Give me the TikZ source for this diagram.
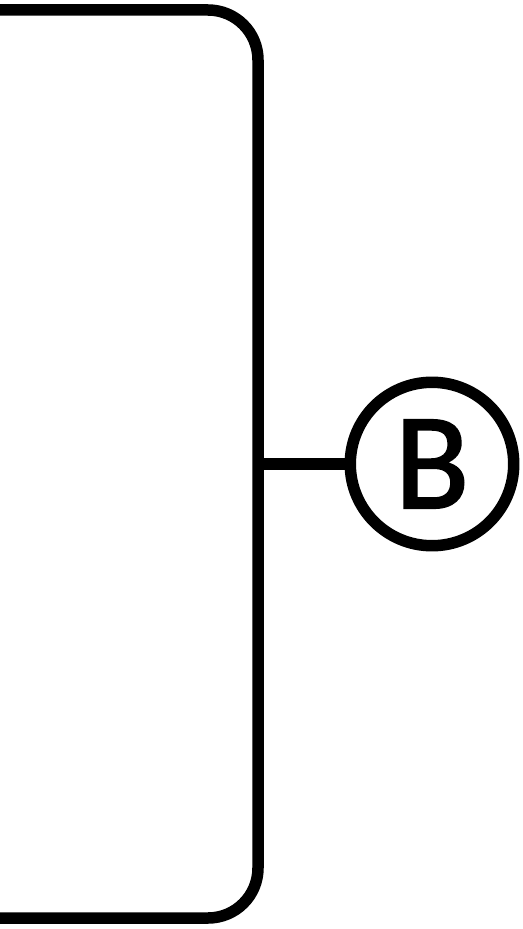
\documentclass[tikz,border=0pt]{standalone}
\usepackage{fontspec}
\setmainfont{Carlito}
\newfontfamily\labelfont[FakeBold=1.6]{Carlito}
\usetikzlibrary{positioning}

\begin{document}
\begin{tikzpicture}[x=0.02cm,y=-0.02cm,line width=0.23cm]
\useasboundingbox (0,0) rectangle (523,929);
\draw[rounded corners=1cm] (0,10) -- (258,10) -- (258,918) -- (0,918);
\coordinate (J) at (258,464);
\node[draw,circle,inner sep=0pt,minimum size=3.27cm,font=\labelfont\fontsize{78}{80}\selectfont] (B) at (432,464) {B};
\draw (J) -- (B.west);
\end{tikzpicture}
\end{document}
